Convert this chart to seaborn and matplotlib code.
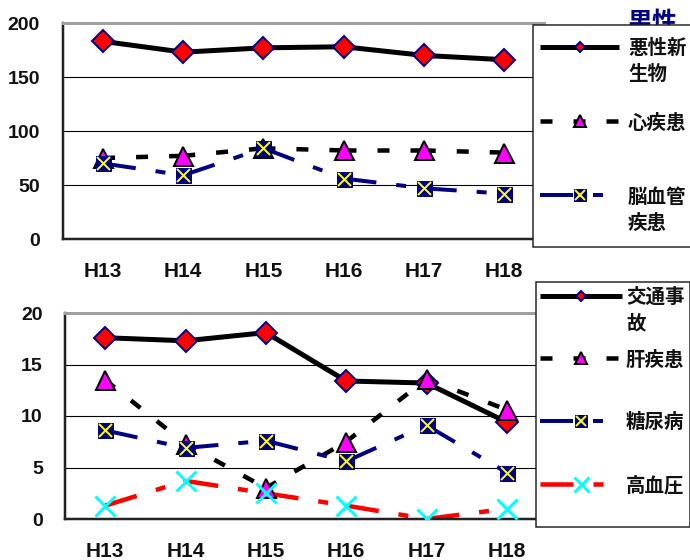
import numpy as np
import pandas as pd
import matplotlib
matplotlib.use("Agg")
import matplotlib.pyplot as plt
import seaborn as sns
from matplotlib.lines import Line2D
from matplotlib.legend_handler import HandlerLine2D
from matplotlib.font_manager import FontProperties

# ---- data -------------------------------------------------------------
years = ["H13", "H14", "H15", "H16", "H17", "H18"]

malignant = [183, 173, 177, 178, 170, 166]
heart = [75, 77, 84, 82, 82, 80]
cerebro = [70, 59, 84, 56, 47, 42]

traffic = [17.6, 17.3, 18.1, 13.4, 13.2, 9.4]
liver = [13.5, 7.3, 3.0, 7.5, 13.6, 10.6]
diabetes = [8.6, 6.9, 7.6, 5.6, 9.1, 4.5]
hypertension = [1.3, 3.7, 2.5, 1.3, 0.0, 1.0]

top_labels = ["悪性新\n生物", "心疾患\n", "脳血管\n疾患"]
bottom_labels = ["交通事\n故", "肝疾患\n", "糖尿病\n", "高血圧\n"]
title = "男性"

top_ticks = [0, 50, 100, 150, 200]
bottom_ticks = [0, 5, 10, 15, 20]

# ---- styles -----------------------------------------------------------
sns.set_style("white")
plt.rcParams["font.family"] = ["Liberation Sans", "Noto Sans CJK JP", "DejaVu Sans"]
plt.rcParams["lines.scale_dashes"] = False
plt.rcParams["lines.dash_capstyle"] = "butt"
plt.rcParams["lines.solid_capstyle"] = "butt"

PX = 72 / 100  # points per pixel
W, H = 690, 560
NAVY = "#000080"
RED = "#FF0000"

solid_line = dict(color="black", lw=5 * PX, ls="-")
dash_line = dict(color="black", lw=4.5 * PX, ls=(0, (12 * PX, 21 * PX)))
navy_line = dict(color=NAVY, lw=4 * PX, ls=(0, (33 * PX, 20 * PX, 10 * PX, 19 * PX)))
red_line = dict(color=RED, lw=4.5 * PX, ls=(0, (33 * PX, 20 * PX, 10 * PX, 19 * PX)))


def diamond(s):
    return [dict(marker="D", ms=s * PX, mfc=RED, mec=NAVY, mew=2 * PX)]


def triangle(s):
    return [dict(marker="^", ms=s * PX, mfc="#FF00FF", mec="black", mew=2 * PX)]


def boxed_x(s):
    return [dict(marker="s", ms=s * PX, mfc=NAVY, mec=NAVY, mew=1 * PX),
            dict(marker="x", ms=(s - 2) * PX, mec="#FFFF00", mew=2 * PX)]


def cyan_x(s):
    return [dict(marker="x", ms=s * PX, mec="#00FFFF", mew=3 * PX)]


class OffsetLine(HandlerLine2D):
    """Legend key line shifted so it sits on the first text line."""

    def __init__(self, dx, dy, **kw):
        super().__init__(**kw)
        self.dx, self.dy = dx, dy

    def create_artists(self, legend, orig_handle, xdescent, ydescent,
                       width, height, fontsize, trans):
        arts = super().create_artists(legend, orig_handle, xdescent, ydescent,
                                      width, height, fontsize, trans)
        for a in arts:
            a.set_xdata(np.asarray(a.get_xdata(), float) + self.dx)
            a.set_ydata(np.asarray(a.get_ydata(), float) + self.dy)
        return arts


def axes_box(l, t, r, b):
    return [l / W, 1 - b / H, (r - l) / W, (b - t) / H]


def draw_panel(ax, series, yticks, ypad, xpad):
    x = np.arange(len(years))
    for vals, line_kw, _ in series:
        v = np.asarray(vals, float)
        seg = pd.DataFrame({
            "x": np.concatenate([x[:-1], x[1:]]),
            "y": np.concatenate([v[:-1], v[1:]]),
            "seg": np.concatenate([np.arange(len(x) - 1)] * 2),
        })
        sns.lineplot(data=seg, x="x", y="y", units="seg", estimator=None,
                     ax=ax, color=line_kw["color"], linewidth=line_kw["lw"],
                     linestyle=line_kw["ls"], zorder=2, legend=False)
    z = 3
    for vals, _, layers in series:
        for m in layers:
            ax.plot(x, vals, ls="none", zorder=z, **m)
            z += 0.1

    ax.set_xlim(-0.5, len(years) - 0.5)
    ax.set_ylim(yticks[0], yticks[-1])
    ax.set_xticks(x, years)
    ax.set_xticks(x[:-1] + 0.5, minor=True)
    ax.set_yticks(yticks)
    ax.set_xlabel("")
    ax.set_ylabel("")
    ax.tick_params(axis="x", which="major", length=0, pad=xpad,
                   labelsize=15, labelcolor="#111111")
    ax.tick_params(axis="x", which="minor", direction="in", length=5,
                   width=1.2, color="#222222")
    ax.tick_params(axis="y", direction="in", length=5, width=1.2,
                   color="#111111", pad=ypad, labelsize=14, labelcolor="#111111")
    for t in ax.get_xticklabels() + ax.get_yticklabels():
        t.set_fontweight("bold")
    ax.grid(axis="y", color="black", lw=0.8)
    ax.grid(axis="x", visible=False)
    ax.set_axisbelow(True)
    ax.spines["top"].set_color("#a0a0a0")
    ax.spines["top"].set_linewidth(3 * PX)
    for side in ("left", "bottom"):
        ax.spines[side].set_color("#222222")
        ax.spines[side].set_linewidth(2.5 * PX)
    ax.spines["right"].set_visible(False)


fig = plt.figure(figsize=(W / 100, H / 100), dpi=100)
fig.patch.set_facecolor("white")

ax1 = fig.add_axes(axes_box(63, 23, 544, 239))
ax2 = fig.add_axes(axes_box(65, 313, 547, 519))

top_series = [
    (malignant, solid_line, diamond(16)),
    (heart, dash_line, triangle(19)),
    (cerebro, navy_line, boxed_x(15)),
]
bottom_series = [
    (traffic, solid_line, diamond(16)),
    (liver, dash_line, triangle(19)),
    (diabetes, navy_line, boxed_x(15)),
    (hypertension, red_line, cyan_x(20)),
]

draw_panel(ax1, top_series, top_ticks, ypad=16.5, xpad=16.5)
draw_panel(ax2, bottom_series, bottom_ticks, ypad=16, xpad=16.5)


def key(line_kw, layers):
    parts = []
    for i, m in enumerate(layers):
        if i == 0:
            parts.append(Line2D([], [], color=line_kw["color"], lw=line_kw["lw"],
                                ls=line_kw["ls"], **m))
        else:
            parts.append(Line2D([], [], ls="none", **m))
    return parts[0] if len(parts) == 1 else tuple(parts)


legend_font = FontProperties(family=["Noto Sans CJK JP"], size=14, weight="bold")

top_keys = [key(solid_line, diamond(7)), key(dash_line, triangle(12)),
            key(navy_line, boxed_x(12))]
bottom_keys = [key(solid_line, diamond(7)), key(dash_line, triangle(12)),
               key(navy_line, boxed_x(12)), key(red_line, cyan_x(15))]


def add_legend(keys, labels, left, top, pad_px, spacing, dx_px, length_px):
    fs_px = 14 / PX
    leg = fig.legend(keys, labels, loc="upper left",
                     bbox_to_anchor=(left / W, 1 - top / H), borderaxespad=0,
                     frameon=True, fancybox=False, shadow=False,
                     edgecolor="#222222", facecolor="white", framealpha=1,
                     borderpad=pad_px / fs_px, handlelength=length_px / fs_px,
                     handletextpad=0.1, labelspacing=spacing, numpoints=1,
                     prop=legend_font,
                     handler_map={Line2D: OffsetLine(dx_px * PX, 15.5 * PX)})
    leg.get_frame().set_linewidth(1.5 * PX)
    for t in leg.get_texts():
        t.set_linespacing(1.47)
        t.set_color("#111111")
    return leg


fig.text(627 / W, 1 - 23 / H, title, color=NAVY, fontsize=18, fontweight="bold",
         family=["Noto Sans CJK JP"], ha="left", va="center", zorder=1)

add_legend(top_keys, top_labels, 533, 25, 14, 1.5, -7, 79)
add_legend(bottom_keys, bottom_labels, 536, 282, 6, 0.9, -2, 82)

fig.savefig("out.png", dpi=100)
